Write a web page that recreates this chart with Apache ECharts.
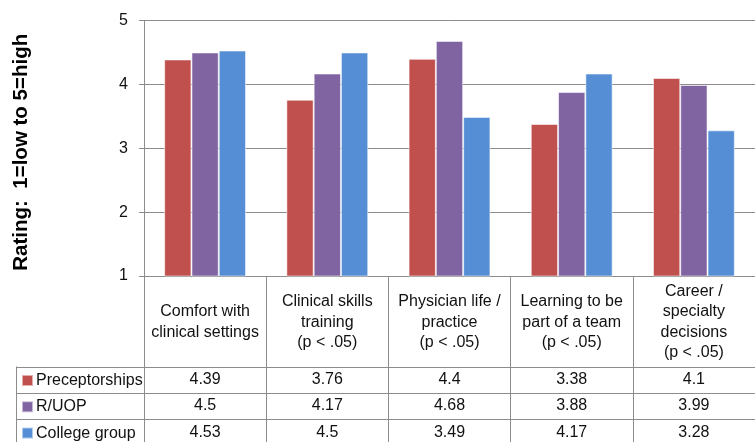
<!DOCTYPE html>
<html>
<head>
<meta charset="utf-8">
<script src="https://cdn.jsdelivr.net/npm/echarts@6/dist/echarts.min.js"></script>
<style>
html,body{margin:0;padding:0;background:#fff;}
#main{width:755px;height:442px;}
</style>
</head>
<body>
<div id="main"></div>
<script>
// ---- data ----
const categories = [
  "Comfort with\nclinical settings",
  "Clinical skills\ntraining\n(p < .05)",
  "Physician life /\npractice\n(p < .05)",
  "Learning to be\npart of a team\n(p < .05)",
  "Career /\nspecialty\ndecisions\n(p < .05)"
];
const seriesNames = ["Preceptorships", "R/UOP", "College group"];
const preceptorships = [4.39, 3.76, 4.4, 3.38, 4.1];
const ruop = [4.5, 4.17, 4.68, 3.88, 3.99];
const collegeGroup = [4.53, 4.5, 3.49, 4.17, 3.28];
const yTicks = [1, 2, 3, 4, 5];
const yTitle = "Rating:  1=low to 5=high";

// ---- layout ----
const FONT = "Liberation Sans, Arial, Helvetica, sans-serif";
const COLORS = ["#C0504D", "#8064A2", "#558ED5"];
const LINE = "#8c8c8c";
const GRID_LEFT = 144, GRID_TOP = 20.5, PLOT_H = 255.5, PLOT_W = 621;
const HEADER_H = 90.5, ROW_H = 26.3, TABLE_LEFT = 16;
const plotBottom = GRID_TOP + PLOT_H;
const allValues = [preceptorships, ruop, collegeGroup];

const xAxes = [{
  type: 'category', data: categories, gridIndex: 0, position: 'bottom',
  axisLine: {show: true, lineStyle: {color: LINE}},
  axisTick: {show: true, length: 175, interval: 0, lineStyle: {color: LINE}},
  axisLabel: {
    interval: 0, margin: HEADER_H / 2 + 1, verticalAlign: 'middle', align: 'center',
    fontFamily: FONT, fontSize: 16, lineHeight: 20.5, color: '#111'
  }
}];
allValues.forEach((vals, i) => {
  xAxes.push({
    type: 'category', data: vals.map(v => String(v)), gridIndex: 0, position: 'bottom',
    offset: HEADER_H + ROW_H * (i + 0.5),
    axisLine: {show: false}, axisTick: {show: false},
    axisLabel: {interval: 0, margin: 0, verticalAlign: 'middle', align: 'center',
      fontFamily: FONT, fontSize: 16, color: '#111'}
  });
});

const graphics = [];
for (let i = 0; i <= 3; i++) {
  const y = Math.round(plotBottom + HEADER_H + ROW_H * i) + 0.5;
  graphics.push({type: 'line', silent: true,
    shape: {x1: TABLE_LEFT, y1: y, x2: 760, y2: y},
    style: {stroke: LINE, lineWidth: 1}});
}
graphics.push({type: 'line', silent: true,
  shape: {x1: TABLE_LEFT + 0.5, y1: plotBottom + HEADER_H, x2: TABLE_LEFT + 0.5, y2: 450},
  style: {stroke: LINE, lineWidth: 1}});

const option = {
  animation: false,
  backgroundColor: '#fff',
  color: COLORS,
  grid: {left: GRID_LEFT, top: GRID_TOP, width: PLOT_W, height: PLOT_H, containLabel: false},
  legend: {
    data: seriesNames, orient: 'vertical', left: 21, top: plotBottom + HEADER_H + 6,
    itemWidth: 11, itemHeight: 11, itemGap: 10.3, icon: 'rect',
    textStyle: {fontFamily: FONT, fontSize: 16, lineHeight: 16, color: '#111', padding: [0,0,0,-2]},
    padding: 0, selectedMode: false
  },
  xAxis: xAxes,
  yAxis: {
    type: 'value', min: yTicks[0], max: yTicks[yTicks.length - 1], interval: 1,
    name: yTitle, nameLocation: 'middle', nameRotate: 90, nameGap: 112,
    nameTextStyle: {fontFamily: FONT, fontSize: 20.5, fontWeight: 'bold', color: '#000', padding: [0, 8, 0, 0]},
    axisLine: {show: true, lineStyle: {color: LINE}},
    axisTick: {show: true, length: 5, lineStyle: {color: LINE}},
    axisLabel: {fontFamily: FONT, fontSize: 16, color: '#111', margin: 16},
    splitLine: {show: true, lineStyle: {color: LINE}}
  },
  graphic: graphics,
  series: allValues.map((vals, i) => ({
    name: seriesNames[i], type: 'bar', data: vals, xAxisIndex: 0,
    barGap: '0%', barCategoryGap: '33%',
    itemStyle: {borderColor: 'rgba(255,255,255,0.55)', borderWidth: 1}
  }))
};

const chart = echarts.init(document.getElementById('main'));
chart.setOption(option);
</script>
</body>
</html>
